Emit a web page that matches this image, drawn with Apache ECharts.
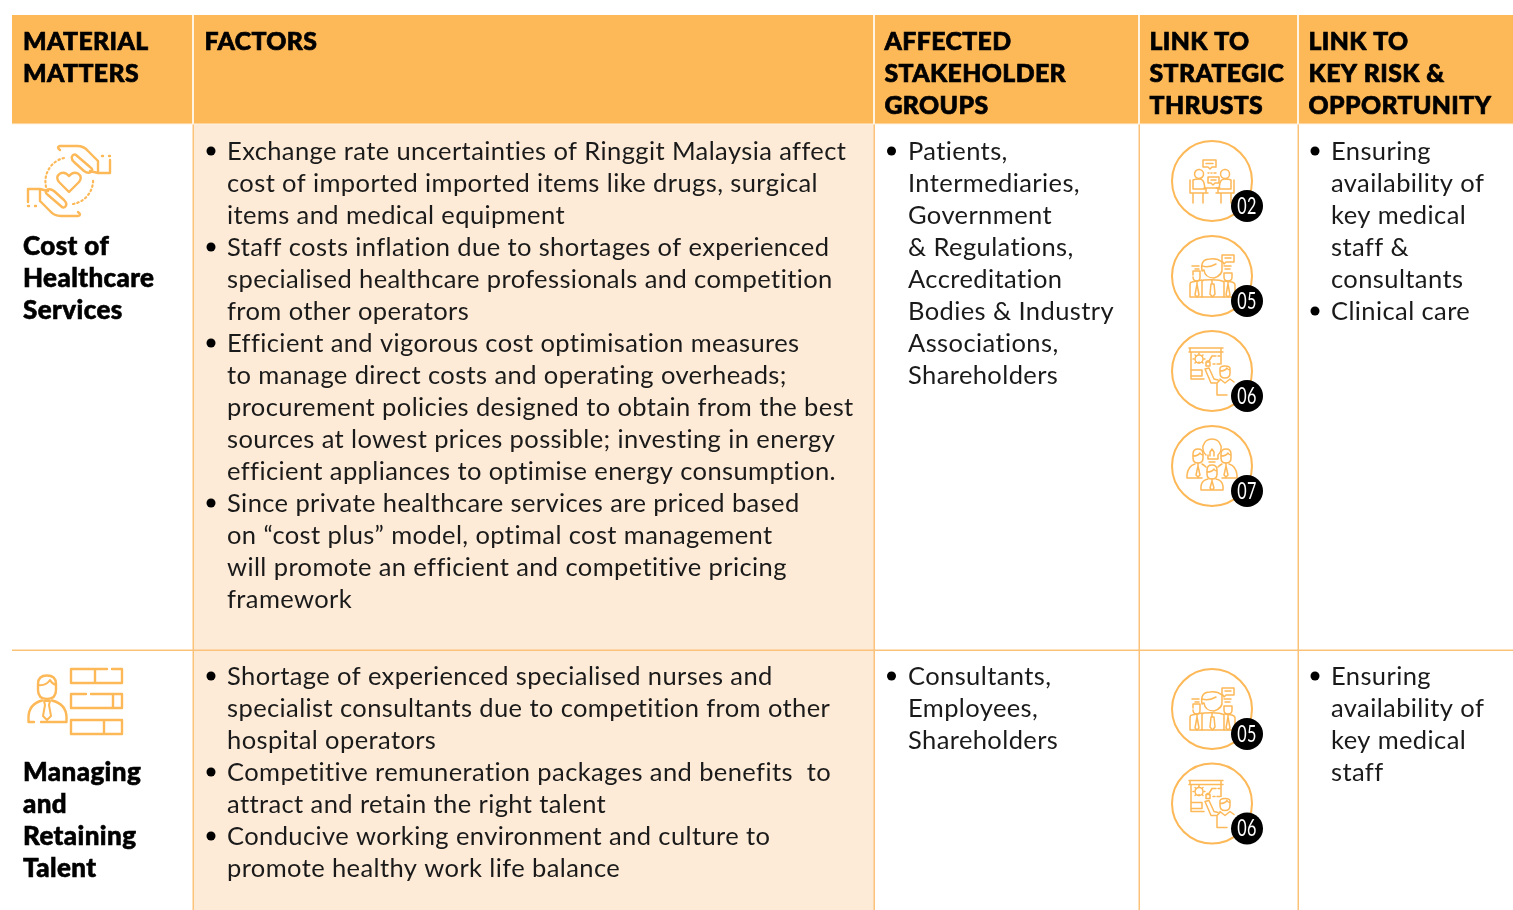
<!DOCTYPE html>
<html><head><meta charset="utf-8">
<style>html,body{margin:0;padding:0;background:#fff}#c{width:1513px;height:910px}</style>
<script src="https://cdn.jsdelivr.net/npm/echarts@6/dist/echarts.min.js"></script></head>
<body><div id="c"></div>
<script>
const headers = [["MATERIAL","MATTERS"],["FACTORS"],["AFFECTED","STAKEHOLDER","GROUPS"],["LINK TO","STRATEGIC","THRUSTS"],["LINK TO","KEY RISK &","OPPORTUNITY"]];
const matters = [["Cost of","Healthcare","Services"],["Managing","and","Retaining","Talent"]];
const factors1 = [
 ["Exchange rate uncertainties of Ringgit Malaysia affect","cost of imported imported items like drugs, surgical","items and medical equipment"],
 ["Staff costs inflation due to shortages of experienced","specialised healthcare professionals and competition","from other operators"],
 ["Efficient and vigorous cost optimisation measures","to manage direct costs and operating overheads;","procurement policies designed to obtain from the best","sources at lowest prices possible; investing in energy","efficient appliances to optimise energy consumption."],
 ["Since private healthcare services are priced based","on “cost plus” model, optimal cost management","will promote an efficient and competitive pricing","framework"]];
const factors2 = [
 ["Shortage of experienced specialised nurses and","specialist consultants due to competition from other","hospital operators"],
 ["Competitive remuneration packages and benefits  to","attract and retain the right talent"],
 ["Conducive working environment and culture to","promote healthy work life balance"]];
const stakeholders1 = [["Patients,","Intermediaries,","Government","& Regulations,","Accreditation","Bodies & Industry","Associations,","Shareholders"]];
const stakeholders2 = [["Consultants,","Employees,","Shareholders"]];
const risks1 = [["Ensuring","availability of","key medical","staff &","consultants"],["Clinical care"]];
const risks2 = [["Ensuring","availability of","key medical","staff"]];
const thrusts1 = ["02","05","06","07"];
const thrusts2 = ["05","06"];

// Slight tracking on all canvas text (also switches off Lato's "ti" ligature)
const TRACKING='0.4px';
['fillText','strokeText'].forEach(fn=>{const o=CanvasRenderingContext2D.prototype[fn];
 CanvasRenderingContext2D.prototype[fn]=function(...a){this.letterSpacing=TRACKING;return o.apply(this,a);};});

const ORANGE='#FDB858', LINE='#FCC27A', TINT='#FDEBD7', INK='#1a1a1a';
const BODY='Lato, sans-serif', BODY_SIZE=25.5;
const els=[];
let pathCount=0;
function rect(x,y,w,h,fill){els.push({type:'rect',silent:true,shape:{x,y,width:w,height:h},style:{fill}});}
function text(str,x,y,o={}){els.push({type:'text',silent:true,x,y,scaleX:o.sx||1,style:{text:str,x:0,y:0,fill:o.fill||INK,stroke:o.heavy?(o.fill||'#000'):null,lineWidth:o.heavy||0,font:(o.weight||'400')+' '+(o.size||BODY_SIZE)+'px '+(o.family||BODY),textAlign:o.align||'left',textVerticalAlign:'middle'}});}
function path(d,o={}){const name='iconPath'+(pathCount++);echarts.graphic.registerShape(name,echarts.graphic.extendPath(d));
 els.push({type:name,silent:true,x:o.x||0,y:o.y||0,rotation:o.rot||0,style:{fill:o.fill||'none',stroke:o.stroke||ORANGE,lineWidth:o.lw||2,lineCap:'round',lineJoin:'round',lineDash:o.dash||null}});}
function ring(cx,cy,r,o={}){els.push({type:'circle',silent:true,shape:{cx,cy,r},style:{fill:o.fill||'none',stroke:o.stroke===undefined?ORANGE:o.stroke,lineWidth:o.lw===undefined?2:o.lw,lineDash:o.dash||null}});}

// panels
rect(12,15,1501,109,ORANGE);
rect(194,124,680,786,TINT);
[193,874,1139,1298].forEach(x=>{rect(x-1,15,2,109,'#FFF3E2');rect(x-0.5,124,1.5,786,LINE);});
rect(12,649.5,1501,1.5,LINE);
rect(12,123.5,1501,1,'#FFF3E2');

// header
const headX=[23,204.5,884.5,1149.5,1308.5];
headers.forEach((ls,i)=>ls.forEach((l,j)=>text(l,headX[i],42+j*32,{weight:'900',size:24.8,heavy:0.7,fill:'#000'})));
// matters
matters[0].forEach((l,j)=>text(l,23,247+j*32,{weight:'900',size:26,heavy:0.6,fill:'#000'}));
matters[1].forEach((l,j)=>text(l,23,772.5+j*32,{weight:'900',size:26,heavy:0.6,fill:'#000'}));
// bullets
function bullets(groups,xb,xt,y0){let y=y0;groups.forEach(g=>{els.push({type:'circle',silent:true,shape:{cx:xb,cy:y,r:4.5},style:{fill:'#000'}});g.forEach(l=>{text(l,xt,y+0.5);y+=32;});});}
bullets(factors1,211,227,151);
bullets(factors2,211,227,676);
bullets(stakeholders1,891.5,908,151);
bullets(stakeholders2,891.5,908,676);
bullets(risks1,1315,1331,151);
bullets(risks2,1315,1331,676);

// left icons
function handIcon(){
 const top='M60 150 Q56 147 60 146 L77 146 Q84 146 88 151 L98 161 M76 155 L90 167 Q94 170 91 172 Q88 174 84 171 L74 162 Q70 158 73 155 Q75 154 76 155 M90 171 L98 173 H110 V160 M98 161 V173 M102 156 H103 M109 156 H110';
 path(top,{lw:2.4});
 path(top,{lw:2.4,x:138,y:362,rot:Math.PI});
 path('M69 192 L59 182 Q55 177 60 173.5 Q65 171 69 176 Q73 171 78 173.5 Q83 177 79 182 Z',{lw:2.4});
 path('M64 158 A24 24 0 0 0 47 190',{lw:2.2,dash:[1.5,3]});
 path('M73 204 A24 24 0 0 0 93 178',{lw:2.2,dash:[1.5,3]});
}
function staffIcon(){
 path('M38 684 Q38 675.5 47 675.5 Q56 675.5 56 684 L56 690 Q56 699 47 699 Q38 699 38 690 Z',{lw:2.4});
 path('M38 685 Q46 686 50 680 Q52 684 56 685',{lw:2});
 path('M28.5 722 L28.5 717 Q29 704 42 700.5 M52 700.5 Q66 704 66.5 717 L66.5 722 L41 722 M34 722 L30 722',{lw:2.4});
 path('M44 701 L50 701 L49 705 L51 716 L47 720 L43 716 L45 705 Z',{lw:2});
 path('M107 669 L71 669 L71 683 L122 683 L122 669 L112 669 M95 669 L95 683',{lw:2.4});
 path('M86 694 L71 694 L71 708 L122 708 L122 694 L91 694 M113 694 L113 708',{lw:2.4});
 path('M113 720 L71 720 L71 734 L122 734 L122 720 L113 720 M104 720 L104 734',{lw:2.4});
}
// thrust icons, local coords about the ring centre
const thrustPaths={
 '02':['M-9 -21 H4 V-14 H0 L-2 -12 L-4 -14 H-9 Z M-6 -17.5 H1','M-4 -4 H7 V2 H3 L1 4 L-1 2 H-4 Z M-1 -1 H4','M-4 -8 H-3 M-1 -8 H0 M2 -8 H4',
  'M-13 -11.5 A4.5 4.5 0 1 0 -12.9 -11.5','M13 -11.5 A4.5 4.5 0 1 0 13.1 -11.5',
  'M-22 -1 V12 H-9 V22 M-19 12 V22 M-19 -1 V8 H-6 V12 M-19 -1 Q-17 -2 -13 -2 Q-9 -2 -8 2 L-7 7 H-4 M-9 12 H-4 M-8 7 H8',
  'M22 -1 V12 H9 V22 M19 12 V22 M19 -1 V8 H6 V12 M19 -1 Q17 -2 13 -2 Q9 -2 8 2 L7 7 H4 M9 12 H4'],
 '05':['M-10 -5 Q-12 -17 -2 -17 Q5 -18 10 -14 L10 -8 Q11 -1 2 2 Q-7 2 -8 -6 Z','M-10 -10 Q-3 -8 4 -12','M-10 5 L-10 21 H12 V6 Q8 3 -8 4 Z','M0 4 V8 M-1 8 H2 L3 18 L0.5 21 L-2 18 Z',
  'M10 -21 H22 V-14 H14 L12 -12 L11 -14 H10 Z M13 -18 H19','M-20 -10 H-13 M-17 -7 H-13','M12 -10 H19 M13 -7 H18',
  'M-19 -1 V-5 H-12 V1 Q-12 5 -15 5 Q-19 5 -19 1','M-15 5 V8 L-13 19 L-15 21 L-17 19 L-15 8','M-10 4 L-20 6 Q-22 6 -22 9 V21 H-10',
  'M12 -3 H20 V1 Q20 5 16 5 Q12 5 12 1 Z','M16 5 V8 L18 19 L16 21 L14 19 L16 8','M12 5 L20 6 Q23 7 23 9 V21 H12'],
 '06':['M-23 -23 H11 M-22 -23 V-19 M9 -23 V-19 M-23 -19 H11 M-21 -19 V8 H-8 M-21 1 L-21 -1 H-10 V5 H-21 M9 -19 V-7',
  'M-13 -16 A4 4 0 1 0 -12.9 -16','M-13 -17 V-18 M-13 -8 V-9 M-19 -12 H-18 M-8 -12 H-7 M-17 -16 L-16 -15 M-9 -16 L-10 -15 M-17 -8 L-16 -9 M-9 -8 L-10 -9',
  'M-5 -10 H-3 L0 -15 H4 M6 -15 H8','M-6 -9 H-2 V-5 H-6 Z M1 -7 H3 M5 -7 H8',
  'M8 -1 Q7 -5 13 -5 Q19 -5 18 -1 V2 Q18 7 13 7 Q8 7 8 2 Z M8 0 Q13 0 15 -3 Q16 -1 18 -1','M-7 -2 L-3 -3 L2 8 L6 9 M-7 -2 L-1 12 H5 V24 H15 M8 8 L13 12 L18 8 L22 11 M5 12 L8 9'],
 '07':['M-6 -11 Q-10 -15 -9 -20 Q-7 -27 0 -27 Q7 -27 9 -20 Q10 -15 6 -11 V-7 H-4 V-11 M-2 -10 V-14 L0 -17 L2 -14 V-10 M-3 -4 H3',
  'M-19 -12 Q-19 -17 -14 -17 Q-9 -17 -9 -12 V-8 Q-9 -3 -14 -3 Q-19 -3 -19 -8 Z M-19 -10 Q-14 -10 -12 -13 Q-11 -11 -9 -11','M-14 -3 V0 L-12 9 L-14 11 L-16 9 L-14 0 M-17 -2 Q-24 0 -25 9 V12 H-10 M-10 -2 Q-8 -1 -6 1',
  'M9 -12 Q9 -17 14 -17 Q19 -17 19 -12 V-8 Q19 -3 14 -3 Q9 -3 9 -8 Z M9 -10 Q14 -10 16 -13 Q17 -11 19 -11','M14 -3 V0 L16 9 L14 11 L12 9 L14 0 M17 -2 Q24 0 25 9 V12 H10 M10 -2 Q8 -1 6 1',
  'M-5 4 Q-5 -1 0 -1 Q5 -1 5 4 V8 Q5 13 0 13 Q-5 13 -5 8 Z M-5 6 Q0 6 2 3 Q3 5 5 5','M0 13 V15 L2 22 L0 24 L-2 22 L0 15 M-4 13 Q-10 14 -11 20 V24 H11 V20 Q10 14 4 13']
};
function thrust(code,cx,cy){
 ring(cx,cy,40,{lw:2});
 thrustPaths[code].forEach(d=>path(d,{x:cx,y:cy,lw:1.5}));
 ring(cx+35,cy+25,16,{fill:'#000',stroke:'none',lw:0});
 text(code,cx+35,cy+25.5,{fill:'#fff',size:22.5,align:'center',sx:0.72});
}
handIcon();staffIcon();
thrusts1.forEach((c,i)=>thrust(c,1212,181+i*95));
thrusts2.forEach((c,i)=>thrust(c,1212,709+i*94.5));

const chart=echarts.init(document.getElementById('c'),null,{renderer:'canvas'});
chart.setOption({animation:false,graphic:{elements:els}});
</script></body></html>
